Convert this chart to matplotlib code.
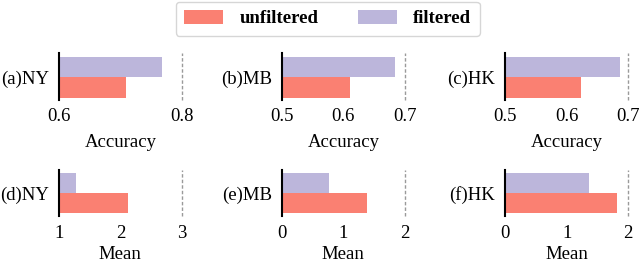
import matplotlib
matplotlib.use("Agg")
import matplotlib.pyplot as plt
from matplotlib.patches import Patch

plt.rcParams['font.family'] = ['Liberation Serif', 'DejaVu Serif']

# panel data
panel_labels = ['(a)NY', '(b)MB', '(c)HK', '(d)NY', '(e)MB', '(f)HK']
unfiltered = [0.709, 0.610, 0.624, 2.13, 1.39, 1.82]
filtered = [0.768, 0.683, 0.687, 1.28, 0.77, 1.37]
x_ranges = [(0.6, 0.8), (0.5, 0.7), (0.5, 0.7), (1, 3), (0, 2), (0, 2)]
x_ticks = [[0.6, 0.8], [0.5, 0.6, 0.7], [0.5, 0.6, 0.7], [1, 2, 3], [0, 1, 2], [0, 1, 2]]
x_titles = ['Accuracy'] * 3 + ['Mean'] * 3

c_unf = '#fa8072'
c_fil = '#bcb6db'
fs = 13.5

fig = plt.figure(figsize=(6.4, 2.64), dpi=100)

# axes placement in pixels (left edge; top/bottom per row)
lefts = [58.7, 281.7, 505.0]
rows = [(53, 100), (169.5, 215.5)]
w = 123.3 / 640

for i in range(6):
    row, col = divmod(i, 3)
    top, bot = rows[row]
    ax = fig.add_axes([lefts[col] / 640, (264 - bot) / 264, w, (bot - top) / 264])
    lo, hi = x_ranges[i]
    ax.barh([0], [unfiltered[i] - lo], left=lo, height=1.0, color=c_unf, align='edge')
    ax.barh([1], [filtered[i] - lo], left=lo, height=1.0, color=c_fil, align='edge')
    ax.set_xlim(lo, hi)
    ax.set_ylim(-0.12, 2.2)
    ax.axvline(hi, color='#9a9a9a', linestyle='--', linewidth=1.0, dashes=(2.5, 1.5), clip_on=False)
    for s in ['top', 'right', 'bottom']:
        ax.spines[s].set_visible(False)
    ax.spines['left'].set_color('black')
    ax.spines['left'].set_linewidth(1.5)
    ax.set_xticks(x_ticks[i])
    ax.set_xticklabels([f'{t:g}' for t in x_ticks[i]])
    ax.set_yticks([1.0])
    ax.set_yticklabels([panel_labels[i]])
    ax.tick_params(axis='both', length=0, labelsize=fs)
    ax.tick_params(axis='x', pad=7 if row else 6)
    ax.tick_params(axis='y', pad=7)
    ax.set_xlabel(x_titles[i], fontsize=fs, labelpad=3 if row else 6)

handles = [Patch(facecolor=c_unf, label='unfiltered'),
           Patch(facecolor=c_fil, label='filtered')]
fig.legend(handles=handles, loc='upper center', bbox_to_anchor=(327.5 / 640, 1.0 - 1.5 / 264),
           borderaxespad=0, ncol=2, prop={'weight': 'bold', 'size': fs},
           handlelength=2.1, handleheight=0.75, handletextpad=0.85, columnspacing=2.1,
           borderpad=0.45, frameon=True, edgecolor='#cccccc', fancybox=True)

fig.savefig('out.png', dpi=100)
